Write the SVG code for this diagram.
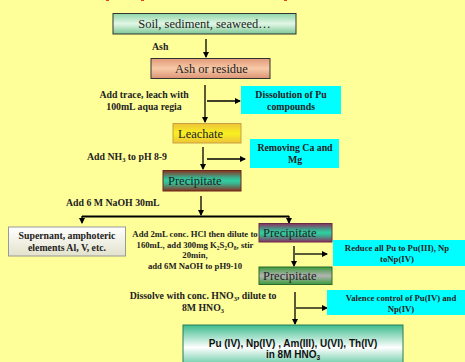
<svg xmlns="http://www.w3.org/2000/svg" width="465" height="362" viewBox="0 0 465 362">
<defs>
<linearGradient id="gSoil" x1="0" y1="0" x2="0" y2="1"><stop offset="0" stop-color="#8fd6a6"/><stop offset="0.5" stop-color="#e2f7e6"/><stop offset="1" stop-color="#7cc896"/></linearGradient>
<linearGradient id="gAsh" x1="0" y1="0" x2="0" y2="1"><stop offset="0" stop-color="#e29a78"/><stop offset="0.5" stop-color="#f8caa8"/><stop offset="1" stop-color="#dc9474"/></linearGradient>
<linearGradient id="gLea" x1="0" y1="0" x2="0" y2="1"><stop offset="0" stop-color="#eec43a"/><stop offset="0.5" stop-color="#f8f020"/><stop offset="1" stop-color="#eec43a"/></linearGradient>
<linearGradient id="gP1" x1="0" y1="0" x2="0" y2="1"><stop offset="0" stop-color="#8a3020"/><stop offset="0.35" stop-color="#3cb08e"/><stop offset="0.5" stop-color="#30d0a0"/><stop offset="0.65" stop-color="#3cb08e"/><stop offset="1" stop-color="#8a3020"/></linearGradient>
<linearGradient id="gP2" x1="0" y1="0" x2="0" y2="1"><stop offset="0" stop-color="#8a3060"/><stop offset="0.35" stop-color="#3cae90"/><stop offset="0.5" stop-color="#30d0a0"/><stop offset="0.65" stop-color="#3cae90"/><stop offset="1" stop-color="#8a3060"/></linearGradient>
<linearGradient id="gP3" x1="0" y1="0" x2="0" y2="1"><stop offset="0" stop-color="#3a9a3a"/><stop offset="0.5" stop-color="#b4b4b4"/><stop offset="1" stop-color="#3a9a3a"/></linearGradient>
<linearGradient id="gSup" x1="0" y1="0" x2="0" y2="1"><stop offset="0" stop-color="#ffffff"/><stop offset="1" stop-color="#e2e2cc"/></linearGradient>
<linearGradient id="gFin" x1="0" y1="0" x2="0" y2="1"><stop offset="0" stop-color="#3cbc8c"/><stop offset="0.5" stop-color="#ffffff"/><stop offset="1" stop-color="#3cbc8c"/></linearGradient>
<marker id="ah" markerWidth="6" markerHeight="6" refX="5" refY="3" orient="auto" markerUnits="userSpaceOnUse"><path d="M0,0 L6,3 L0,6 Z" fill="#000"/></marker>
<style>
.box{stroke-width:1}
.big{font-family:"Liberation Serif","Times New Roman",serif;font-size:12.5px;fill:#222}
.lbl{font-family:"Liberation Serif","Times New Roman",serif;font-size:9.8px;font-weight:bold;fill:#222}
.sm{font-family:"Liberation Serif","Times New Roman",serif;font-size:8.7px;font-weight:bold;fill:#222}
.fin{font-family:"Liberation Sans",Arial,sans-serif;font-size:10px;font-weight:bold;fill:#111}
.ln{stroke:#000;stroke-width:1.3;fill:none}
.cy{fill:#00ffff}
</style>
</defs>
<rect width="465" height="362" fill="#ffff99"/>
<rect x="106" y="0" width="3" height="1" fill="#e84020"/>
<rect x="141" y="0" width="3" height="1" fill="#e84020"/>
<rect x="284" y="0" width="3" height="1" fill="#e84020"/>

<g id="connectors">
<line class="ln" x1="206" y1="39" x2="206" y2="57" marker-end="url(#ah)"/>
<line class="ln" x1="205" y1="85" x2="205" y2="122" marker-end="url(#ah)"/>
<line class="ln" x1="207" y1="101" x2="240" y2="101" marker-end="url(#ah)"/>
<line class="ln" x1="203" y1="147" x2="203" y2="169" marker-end="url(#ah)"/>
<line class="ln" x1="207" y1="159" x2="245" y2="159" marker-end="url(#ah)"/>
<line class="ln" x1="201" y1="196" x2="201" y2="215" marker-end="url(#ah)"/>
<line stroke="#000" stroke-width="2" x1="82" y1="216.5" x2="289" y2="216.5"/>
<line class="ln" x1="82" y1="216" x2="82" y2="223" marker-end="url(#ah)"/>
<line class="ln" x1="289" y1="216" x2="289" y2="223" marker-end="url(#ah)"/>
<line class="ln" x1="294" y1="246" x2="294" y2="266" marker-end="url(#ah)"/>
<line class="ln" x1="295" y1="254" x2="327" y2="254" marker-end="url(#ah)"/>
<line class="ln" x1="295" y1="292" x2="295" y2="324" marker-end="url(#ah)"/>
<line class="ln" x1="296" y1="308" x2="327" y2="308" marker-end="url(#ah)"/>
</g>

<g id="soil">
<rect x="113" y="13.5" width="183" height="20.5" fill="url(#gSoil)" stroke="#333" class="box"/>
<text class="big" x="204.5" y="28" text-anchor="middle">Soil, sediment, seaweed…</text>
</g>
<g id="lbl-ash"><text class="lbl" x="152" y="50">Ash</text></g>

<g id="ash">
<rect x="151" y="58.5" width="119" height="20" fill="url(#gAsh)" stroke="#333" class="box"/>
<text class="big" x="175" y="73">Ash or residue</text>
</g>

<g id="lbl-leach">
<text class="lbl" x="144" y="98" text-anchor="middle">Add trace, leach with</text>
<text class="lbl" x="144" y="110" text-anchor="middle">100mL aqua regia</text>
</g>

<g id="dissolution">
<rect class="cy" x="241" y="86" width="100" height="28"/>
<text class="lbl" x="291" y="98" text-anchor="middle">Dissolution of Pu</text>
<text class="lbl" x="291" y="110" text-anchor="middle">compounds</text>
</g>

<g id="leachate">
<rect x="173" y="123.5" width="68" height="19.5" fill="url(#gLea)" stroke="#c8a040" class="box"/>
<text class="big" x="178" y="138">Leachate</text>
</g>

<g id="lbl-nh3">
<text class="lbl" x="87" y="160">Add NH<tspan font-size="6.5" dy="2">3</tspan><tspan dy="-2"> to pH 8-9</tspan></text>
</g>

<g id="removing">
<rect class="cy" x="250" y="139" width="89" height="29"/>
<text class="lbl" x="295" y="151" text-anchor="middle">Removing Ca and</text>
<text class="lbl" x="295" y="163" text-anchor="middle">Mg</text>
</g>

<g id="precip1">
<rect x="163" y="170.5" width="78" height="20.5" fill="url(#gP1)" stroke="#6a2818" class="box"/>
<text class="big" x="168" y="185">Precipitate</text>
</g>

<g id="lbl-naoh"><text class="lbl" x="66" y="206">Add 6 M NaOH 30mL</text></g>

<g id="supernant">
<rect x="8.5" y="227" width="117" height="29" fill="url(#gSup)" stroke="#999" class="box"/>
<text class="lbl" x="67" y="239" text-anchor="middle">Supernant, amphoteric</text>
<text class="lbl" x="67" y="251" text-anchor="middle">elements Al, V, etc.</text>
</g>

<g id="lbl-hcl">
<text class="sm" x="195" y="237" text-anchor="middle">Add 2mL conc. HCl then dilute to</text>
<text class="sm" x="195" y="248" text-anchor="middle">160mL, add 300mg K<tspan font-size="5.5" dy="1.5">2</tspan><tspan dy="-1.5">S</tspan><tspan font-size="5.5" dy="1.5">2</tspan><tspan dy="-1.5">O</tspan><tspan font-size="5.5" dy="1.5">8</tspan><tspan dy="-1.5">, stir</tspan></text>
<text class="sm" x="195" y="258" text-anchor="middle">20min,</text>
<text class="sm" x="195" y="269" text-anchor="middle">add 6M NaOH to pH9-10</text>
</g>

<g id="precip2">
<rect x="259" y="223.5" width="73" height="18.5" fill="url(#gP2)" stroke="#6a2a4a" class="box"/>
<text class="big" x="263" y="237">Precipitate</text>
</g>

<g id="reduce">
<rect class="cy" x="333" y="240" width="132" height="26"/>
<text class="sm" x="397" y="251" text-anchor="middle">Reduce all Pu to Pu(III), Np</text>
<text class="sm" x="397" y="262" text-anchor="middle">toNp(IV)</text>
</g>

<g id="precip3">
<rect x="259" y="267" width="73" height="17.5" fill="url(#gP3)" stroke="#2a6a2a" class="box"/>
<text class="big" x="263" y="280">Precipitate</text>
</g>

<g id="lbl-hno3">
<text class="lbl" x="203" y="299" text-anchor="middle">Dissolve with conc. HNO<tspan font-size="6.5" dy="2">3</tspan><tspan dy="-2">, dilute to</tspan></text>
<text class="lbl" x="203" y="311" text-anchor="middle">8M HNO<tspan font-size="6.5" dy="2">3</tspan></text>
</g>

<g id="valence">
<rect class="cy" x="327" y="290" width="138" height="25"/>
<text class="sm" x="401" y="301" text-anchor="middle">Valence control  of Pu(IV) and</text>
<text class="sm" x="401" y="312" text-anchor="middle">Np(IV)</text>
</g>

<g id="final">
<rect x="183" y="325" width="220" height="45" fill="url(#gFin)" stroke="#2a7a5a" class="box"/>
<text class="fin" x="293" y="347" text-anchor="middle">Pu (IV), Np(IV) , Am(III), U(VI), Th(IV)</text>
<text class="fin" x="293" y="358" text-anchor="middle">in 8M HNO<tspan font-size="6.5" dy="2">3</tspan></text>
</g>
</svg>
